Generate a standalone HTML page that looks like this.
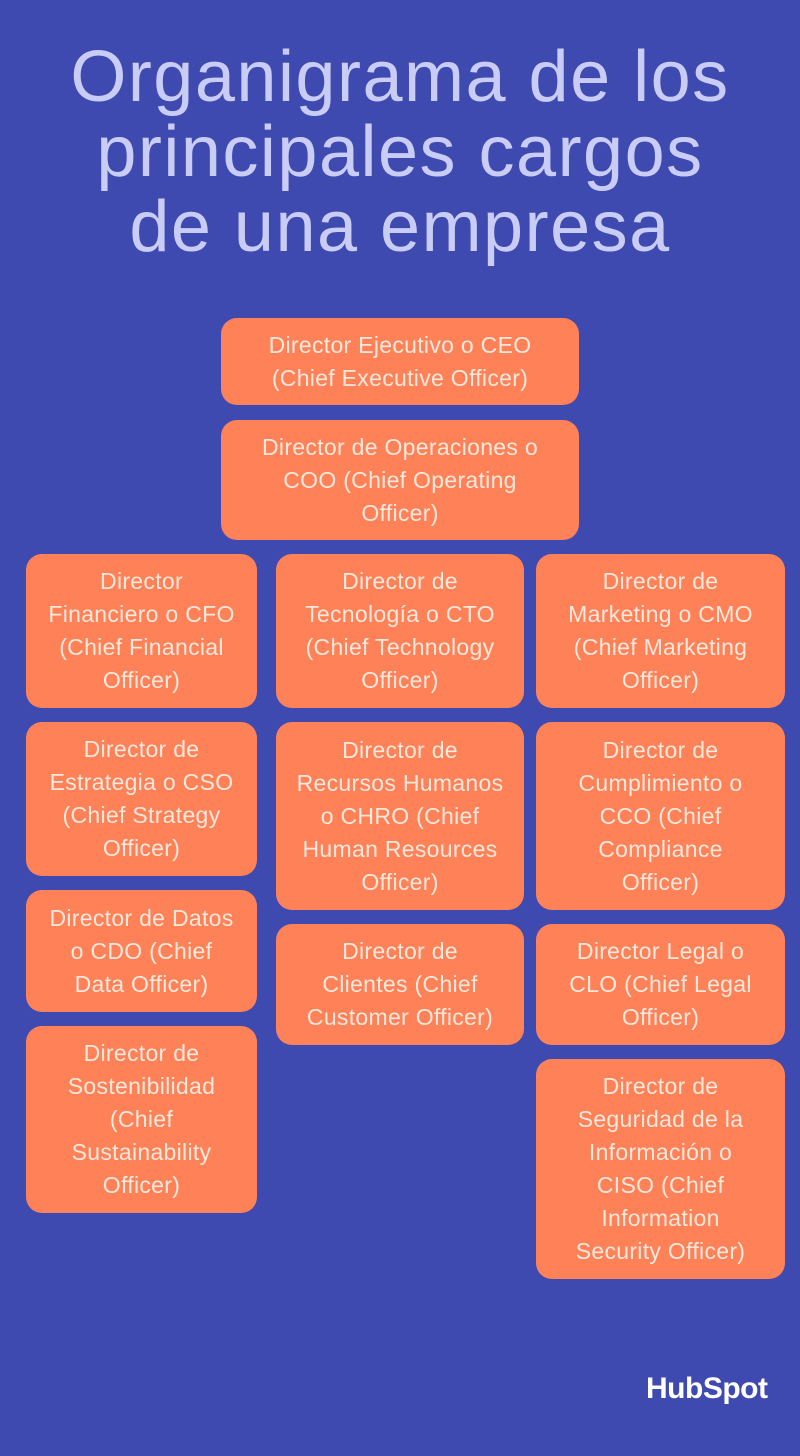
<!DOCTYPE html>
<html><head><meta charset="utf-8"><style>
body{margin:0;width:800px;height:1456px;background:#3f4ab1;position:relative;overflow:hidden;font-family:"Liberation Sans","DejaVu Sans",sans-serif}
h1{position:absolute;top:40px;left:0;width:800px;margin:0;text-align:center;color:#c9cdf6;font-weight:400;font-size:72px;line-height:75px;letter-spacing:1.5px}
.b{position:absolute;background:#ff8158;border-radius:16px;color:#fde8dc;font-size:23px;line-height:33px;letter-spacing:0.3px;display:flex;align-items:center;justify-content:center;text-align:center;box-sizing:border-box;padding:0 4px;white-space:nowrap}
.logo{position:absolute;left:646px;top:1372px;color:#fff;font-weight:700;font-size:30px;letter-spacing:-0.5px}
</style></head><body>
<h1>Organigrama de los<br>principales cargos<br>de una empresa</h1>
<div class="b" style="left:221px;top:318px;width:358px;height:87px">Director Ejecutivo o CEO<br>(Chief Executive Officer)</div>
<div class="b" style="left:221px;top:420px;width:358px;height:120px">Director de Operaciones o<br>COO (Chief Operating<br>Officer)</div>
<div class="b" style="left:26px;top:554px;width:231px;height:154px">Director<br>Financiero o CFO<br>(Chief Financial<br>Officer)</div>
<div class="b" style="left:276px;top:554px;width:248px;height:154px">Director de<br>Tecnología o CTO<br>(Chief Technology<br>Officer)</div>
<div class="b" style="left:536px;top:554px;width:249px;height:154px">Director de<br>Marketing o CMO<br>(Chief Marketing<br>Officer)</div>
<div class="b" style="left:26px;top:722px;width:231px;height:154px">Director de<br>Estrategia o CSO<br>(Chief Strategy<br>Officer)</div>
<div class="b" style="left:276px;top:722px;width:248px;height:188px">Director de<br>Recursos Humanos<br>o CHRO (Chief<br>Human Resources<br>Officer)</div>
<div class="b" style="left:536px;top:722px;width:249px;height:188px">Director de<br>Cumplimiento o<br>CCO (Chief<br>Compliance<br>Officer)</div>
<div class="b" style="left:26px;top:890px;width:231px;height:122px">Director de Datos<br>o CDO (Chief<br>Data Officer)</div>
<div class="b" style="left:276px;top:924px;width:248px;height:121px">Director de<br>Clientes (Chief<br>Customer Officer)</div>
<div class="b" style="left:536px;top:924px;width:249px;height:121px">Director Legal o<br>CLO (Chief Legal<br>Officer)</div>
<div class="b" style="left:26px;top:1026px;width:231px;height:187px">Director de<br>Sostenibilidad<br>(Chief<br>Sustainability<br>Officer)</div>
<div class="b" style="left:536px;top:1059px;width:249px;height:220px">Director de<br>Seguridad de la<br>Información o<br>CISO (Chief<br>Information<br>Security Officer)</div>
<div class="logo">HubSpot</div>
</body></html>
